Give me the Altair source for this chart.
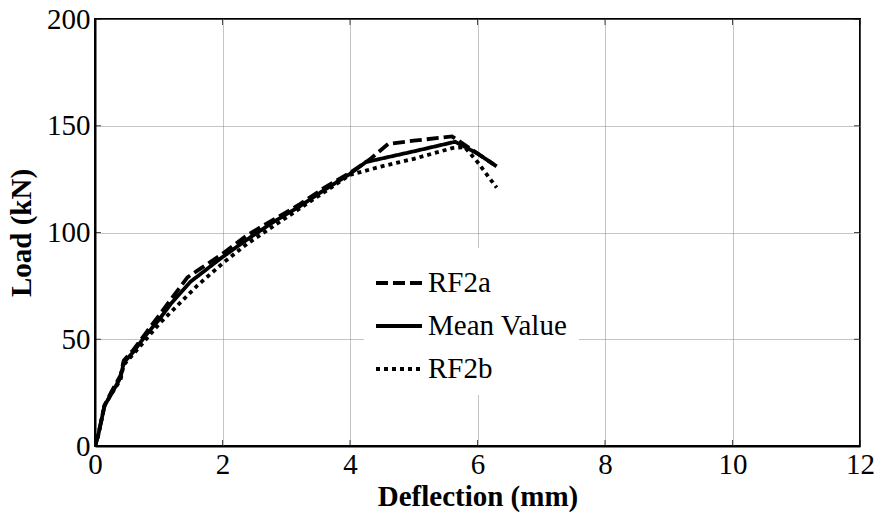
import altair as alt
import pandas as pd

# RF2a (dashed)
rf2a_x = [0, 0.05, 0.15, 0.25, 0.40, 0.45, 0.60, 0.80, 1.00, 1.20, 1.45, 1.60, 2.00, 2.40, 2.80, 3.20, 3.60, 4.00, 4.30, 4.60, 5.00, 5.60, 5.90, 6.30]
rf2a_y = [0, 5, 19, 25, 33, 40, 45, 53, 61, 69, 79, 82, 90, 99, 106, 113, 121, 128, 134, 141.5, 143, 145, 139, 131]
# Mean value (solid)
mean_x = [0, 0.05, 0.15, 0.25, 0.40, 0.45, 0.60, 0.80, 1.00, 1.20, 1.50, 2.00, 2.40, 2.80, 3.20, 3.60, 4.00, 4.25, 5.00, 5.65, 6.00, 6.25]
mean_y = [0, 5, 19, 24, 32, 39, 44, 52, 59, 67, 77, 88.5, 97, 105, 112, 120, 127.5, 133, 138, 142.5, 137, 132]
# RF2b (dotted)
rf2b_x = [0, 0.05, 0.15, 0.25, 0.40, 0.45, 0.60, 0.80, 1.00, 1.30, 1.60, 2.00, 2.40, 2.80, 3.20, 3.60, 4.00, 4.50, 5.00, 5.60, 5.80, 6.00, 6.30]
rf2b_y = [0, 5, 19, 24, 31, 38, 43, 50, 57, 66, 75, 85.5, 95, 103, 111, 119, 127, 131, 134.5, 139.5, 140, 133, 121]

series_names = ["RF2a", "Mean Value", "RF2b"]
x_ticks = [0, 2, 4, 6, 8, 10, 12]
y_ticks = [0, 50, 100, 150, 200]

rows = []
for name, xs, ys in [("RF2a", rf2a_x, rf2a_y), ("Mean Value", mean_x, mean_y), ("RF2b", rf2b_x, rf2b_y)]:
    for i, (a, b) in enumerate(zip(xs, ys)):
        rows.append({"series": name, "order": i, "defl": a, "load": b})
df = pd.DataFrame(rows)

FONT = "Liberation Serif"
FS = 29
xs = alt.Scale(domain=[0, 12], nice=False, zero=False)
ys = alt.Scale(domain=[0, 200], nice=False)

lines = alt.Chart(df).mark_line(strokeWidth=3.8, color="black", strokeCap="butt", clip=True).encode(
    x=alt.X("defl:Q", scale=xs,
            axis=alt.Axis(values=x_ticks, format="d", title="Deflection (mm)", grid=True, tickSize=0,
                          labelFlush=False, labelPadding=4, titlePadding=3)),
    y=alt.Y("load:Q", scale=ys,
            axis=alt.Axis(values=y_ticks, format="d", title="Load (kN)", grid=True, tickSize=0,
                          labelFlush=False, labelPadding=5, titlePadding=10)),
    strokeDash=alt.StrokeDash("series:N",
                              scale=alt.Scale(domain=series_names, range=[[12, 5], [1, 0], [4, 4]]),
                              legend=alt.Legend(title=None, orient="none", legendX=269, legendY=229,
                                                symbolType="stroke", symbolStrokeWidth=3.8,
                                                symbolSize=2116, symbolStrokeColor="black",
                                                labelFont=FONT, labelFontSize=FS, labelColor="black",
                                                labelOffset=4, rowPadding=3, padding=10,
                                                fillColor="white", strokeColor="white")),
    order="order:Q",
)

xt = pd.DataFrame({"v": x_ticks})
yt = pd.DataFrame({"v": y_ticks})
tick_bottom = alt.Chart(xt).mark_tick(orient="vertical", size=6, thickness=1, color="black", yOffset=-3).encode(
    x=alt.X("v:Q", scale=xs), y=alt.datum(0, scale=ys))
tick_top = alt.Chart(xt).mark_tick(orient="vertical", size=6, thickness=1, color="black", yOffset=3).encode(
    x=alt.X("v:Q", scale=xs), y=alt.datum(200, scale=ys))
tick_left = alt.Chart(yt).mark_tick(orient="horizontal", size=6, thickness=1, color="black", xOffset=3).encode(
    y=alt.Y("v:Q", scale=ys), x=alt.datum(0, scale=xs))
tick_right = alt.Chart(yt).mark_tick(orient="horizontal", size=6, thickness=1, color="black", xOffset=-3).encode(
    y=alt.Y("v:Q", scale=ys), x=alt.datum(12, scale=xs))

chart = alt.layer(tick_bottom, tick_top, tick_left, tick_right, lines).properties(
    width=765, height=427,
    autosize=alt.AutoSizeParams(type="none"),
    padding={"left": 95, "top": 19, "right": 22, "bottom": 69},
    background="white",
).configure_view(
    stroke="black", strokeWidth=2
).configure_axis(
    labelFont=FONT, labelFontSize=FS, labelColor="black",
    titleFont=FONT, titleFontSize=FS, titleFontWeight="bold", titleColor="black",
    domainColor="black", domainWidth=2,
    gridColor="#888888", gridDash=[1, 1], gridWidth=1,
)

chart.save("out.html", embed_options={"renderer": "svg", "actions": False})
